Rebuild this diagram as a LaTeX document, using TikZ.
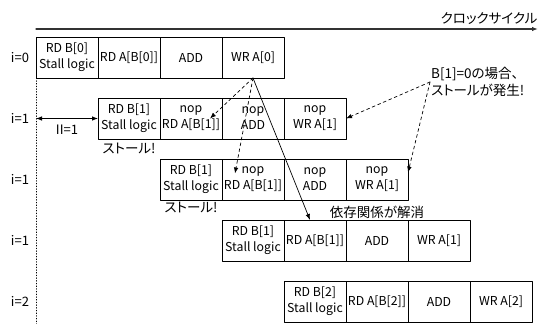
\documentclass[tikz,border=0pt]{standalone}
\usepackage{fontspec}
\setmainfont{Noto Sans CJK JP}[RawFeature=+palt]
\usetikzlibrary{positioning,arrows.meta}
\tikzset{
  cell/.style={draw,line width=0.8pt,minimum width=62pt,minimum height=41pt,
    inner sep=0pt,outer sep=0pt,align=center,font=\fontsize{12.3}{16}\selectfont},
  lbl/.style={font=\fontsize{13}{16}\selectfont},
  jlbl/.style={font=\fontsize{13.5}{17}\selectfont},
  tip/.style={-{Latex[length=6pt,width=4.5pt]}},
  dtip/.style={{Latex[length=6pt,width=4.5pt]}-{Latex[length=6pt,width=4.5pt]}}
}
\begin{document}
\begin{tikzpicture}[x=1pt,y=1pt,line cap=round,line join=round]
  \useasboundingbox (0,0) rectangle (541,-324);
  % time axis
  \coordinate (t0) at (36,-29);
  \coordinate (t1) at (538,-29);
  \draw[tip,line width=1.2pt,black!80] (t0) -- (t1);
  \node[jlbl,above left=1pt and -3pt of t1] (clk) {クロックサイクル};
  % i=0
  \node[cell] (r0c0) at (67,-57.5) {RD B[0]\\Stall logic};
  \node[cell,right=0pt of r0c0] (r0c1) {RD A[B[0]]};
  \node[cell,right=0pt of r0c1] (r0c2) {ADD};
  \node[cell,right=0pt of r0c2] (r0c3) {WR A[0]};
  % i=1, stall
  \node[cell] (r1c0) at (129,-118.5) {RD B[1]\\Stall logic};
  \node[cell,right=0pt of r1c0] (r1c1) {nop\\RD A[B[1]]};
  \node[cell,right=0pt of r1c1] (r1c2) {nop\\ADD};
  \node[cell,right=0pt of r1c2] (r1c3) {nop\\WR A[1]};
  % i=1, stall again
  \node[cell] (r2c0) at (191,-179.5) {RD B[1]\\Stall logic};
  \node[cell,right=0pt of r2c0] (r2c1) {nop\\RD A[B[1]]};
  \node[cell,right=0pt of r2c1] (r2c2) {nop\\ADD};
  \node[cell,right=0pt of r2c2] (r2c3) {nop\\WR A[1]};
  % i=1, resolved
  \node[cell] (r3c0) at (253,-240.5) {RD B[1]\\Stall logic};
  \node[cell,right=0pt of r3c0] (r3c1) {RD A[B[1]]};
  \node[cell,right=0pt of r3c1] (r3c2) {ADD};
  \node[cell,right=0pt of r3c2] (r3c3) {WR A[1]};
  % i=2
  \node[cell] (r4c0) at (315,-301.5) {RD B[2]\\Stall logic};
  \node[cell,right=0pt of r4c0] (r4c1) {RD A[B[2]]};
  \node[cell,right=0pt of r4c1] (r4c2) {ADD};
  \node[cell,right=0pt of r4c2] (r4c3) {WR A[2]};
  % iteration labels
  \node[lbl] (i0) at (20,-57.5) {i=0};
  \node[lbl] (i1) at (20,-118.5) {i=1};
  \node[lbl] (i2) at (20,-179.5) {i=1};
  \node[lbl] (i3) at (20,-240.5) {i=1};
  \node[lbl] (i4) at (20,-301.5) {i=2};
  \coordinate (bot) at (36,-324);
  \draw[dotted,line width=0.7pt] (r0c0.south west) -- (bot);
  \coordinate (ii) at (36,-118.5);
  \draw[dtip,line width=0.8pt] (ii) -- node[lbl,below=2.5pt] (iilbl) {II=1} (r1c0.west);
  \node[jlbl,below=1pt of r1c0] (st1) {ストール!};
  \node[jlbl,below=-1pt of r2c0] (st2) {ストール!};
  \node[jlbl,above=-2pt of r3c2] (dep) {依存関係が解消};
  \node[jlbl,align=left,anchor=west,inner sep=1pt] (note) at (430,-82) {B[1]=0の場合、\\ストールが発生!};
  % dependency arrows
  \draw[tip,line width=0.7pt] (r0c3.south) -- ([xshift=-5pt]r3c1.north);
  \draw[tip,dashed,line width=0.7pt] (r0c3.south) -- ([xshift=19pt]r1c1.center);
  \draw[tip,dashed,line width=0.7pt] (r0c3.south) -- ([shift={(-18,6)}]r2c1.center);
  \draw[tip,dashed,line width=0.7pt] (note.west) -- (r1c3.east);
  \draw[tip,dashed,line width=0.7pt] (note.west) -- ([yshift=7pt]r2c3.east);
\end{tikzpicture}
\end{document}
